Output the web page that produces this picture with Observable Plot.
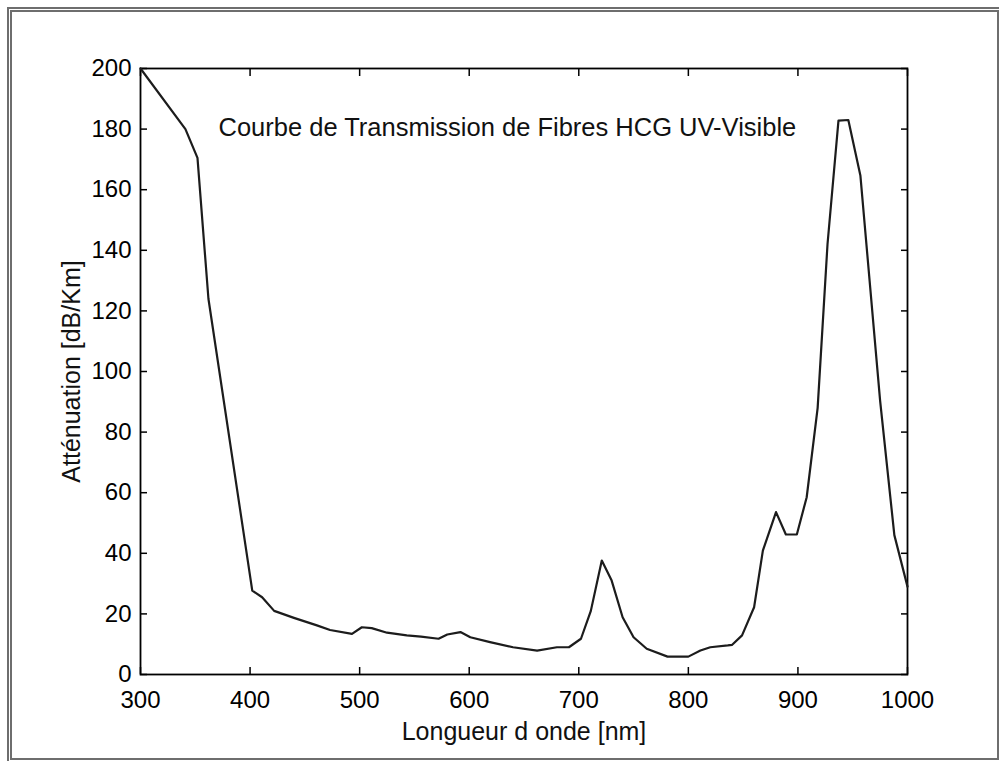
<!DOCTYPE html>
<html>
<head>
<meta charset="utf-8">
<script src="https://cdn.jsdelivr.net/npm/d3@7"></script>
<script src="https://cdn.jsdelivr.net/npm/@observablehq/plot@0.6"></script>
<style>
  html, body { margin: 0; padding: 0; background: #fff; }
  #wrap { position: relative; width: 999px; height: 761px; overflow: hidden; }
  #frame { position: absolute; left: 7px; top: 7px; width: 995px; height: 756px; box-sizing: border-box;
           border: 5px double #6e6e6e; pointer-events: none; }
  #chart { position: absolute; left: 0; top: 0; }
</style>
</head>
<body>
<div id="wrap"><div id="chart"></div><div id="frame"></div></div>
<script>
const title = "Courbe de Transmission de Fibres HCG UV-Visible";
const xLabel = "Longueur d onde [nm]";
const yLabel = "Atténuation [dB/Km]";
const xTicks = [300, 400, 500, 600, 700, 800, 900, 1000];
const yTicks = [0, 20, 40, 60, 80, 100, 120, 140, 160, 180, 200];
const wavelength = [300, 341, 352, 362, 402, 411, 422, 440, 461, 473, 493, 502, 511, 525, 543, 556, 572, 580, 592, 601, 619, 640, 662, 680, 691, 702, 711, 721, 730, 740, 750, 762, 781, 800, 811, 820, 836, 840, 849, 860, 868, 880, 889, 899, 908, 918, 927, 937, 946, 957, 975, 988, 1000];
const attenuation = [200, 180, 170.5, 124, 27.7, 25.5, 21, 18.7, 16.2, 14.7, 13.4, 15.6, 15.3, 13.8, 12.9, 12.5, 11.8, 13.2, 14, 12.3, 10.7, 9, 7.9, 9, 9, 11.8, 21, 37.6, 31, 18.9, 12.3, 8.5, 5.9, 5.9, 7.9, 9, 9.6, 9.8, 12.9, 22.2, 40.9, 53.6, 46.2, 46.2, 58.5, 88, 142, 182.8, 183, 164.7, 90.4, 46, 29];

const data = wavelength.map((w, i) => ({w, a: attenuation[i]}));
const font = "'Liberation Sans', Arial, sans-serif";
const fmt = d => String(d);

const chart = Plot.plot({
  width: 999,
  height: 761,
  marginLeft: 140,
  marginTop: 68,
  marginRight: 92,
  marginBottom: 87,
  style: {fontFamily: font, fontSize: "24px", color: "#000", background: "transparent"},
  x: {domain: [300, 1000]},
  y: {domain: [0, 200]},
  marks: [
    Plot.axisX(xTicks, {anchor: "bottom", tickSize: -7, tickPadding: 23, strokeWidth: 1.5, fontSize: 24,
      tickFormat: fmt, label: null}),
    Plot.axisX(xTicks, {anchor: "top", tickSize: -7, tickFormat: () => "", strokeWidth: 1.5, label: null}),
    Plot.axisY(yTicks, {anchor: "left", tickSize: -7, tickPadding: 16, strokeWidth: 1.5, fontSize: 24,
      tickFormat: fmt, label: null}),
    Plot.axisY(yTicks, {anchor: "right", tickSize: -7, tickFormat: () => "", strokeWidth: 1.5, label: null}),
    Plot.frame({stroke: "#000", strokeWidth: 1.8}),
    Plot.line(data, {x: "w", y: "a", stroke: "#1c1c1c", strokeWidth: 2.2, strokeLinejoin: "round"}),
    Plot.text([title], {frameAnchor: "top-left", dx: 78, dy: 59, textAnchor: "start", lineAnchor: "middle",
      fontSize: 25.5, fill: "#111"}),
    Plot.text([xLabel], {frameAnchor: "bottom", dy: 57, textAnchor: "middle", lineAnchor: "middle", fontSize: 25, fill: "#111"}),
    Plot.text([yLabel], {frameAnchor: "left", dx: -69, rotate: -90, textAnchor: "middle", lineAnchor: "middle", fontSize: 25, fill: "#111"})
  ]
});
document.getElementById("chart").appendChild(chart);
</script>
</body>
</html>
